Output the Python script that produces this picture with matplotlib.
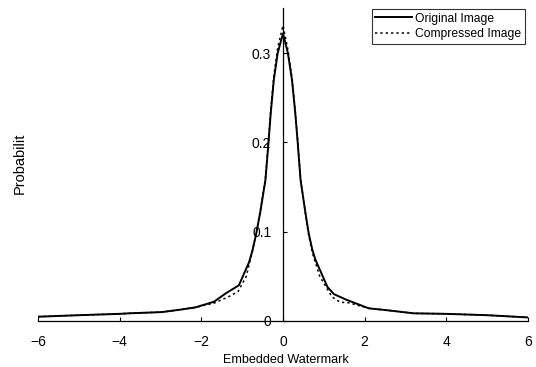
import matplotlib
matplotlib.use("Agg")
import matplotlib.pyplot as plt

plt.rcParams['font.family'] = ['Liberation Sans', 'DejaVu Sans']

x_orig = [-6, -5, -4, -3.77, -2.96, -2.47, -2.14, -1.69, -1.4, -1.08, -0.83, -0.745, -0.655,
          -0.56, -0.43, -0.355, -0.30, -0.225, -0.13, 0,
          0.12, 0.22, 0.30, 0.36, 0.43, 0.55, 0.63, 0.72, 0.8, 1.09, 1.25, 1.57, 2.1, 2.5,
          3.2, 4, 5, 6]
y_orig = [0.0048, 0.0065, 0.0080, 0.0086, 0.0100, 0.0130, 0.0153, 0.0216, 0.0310, 0.0400,
          0.066, 0.0795, 0.098, 0.121, 0.158, 0.200, 0.233, 0.270, 0.300, 0.322,
          0.300, 0.270, 0.233, 0.200, 0.158, 0.121, 0.098, 0.0795, 0.068, 0.038, 0.030,
          0.0235, 0.0142, 0.0123, 0.0086, 0.0080, 0.0065, 0.0040]

x_comp = [-6, -5, -4, -3.77, -2.96, -2.47, -2.14, -1.69, -1.34, -1.1, -0.9, -0.76, -0.66,
          -0.56, -0.43, -0.355, -0.30, -0.225, -0.13, 0,
          0.12, 0.22, 0.30, 0.36, 0.43, 0.55, 0.63, 0.72, 0.9, 1.2, 1.4, 1.6, 2.1, 2.5,
          3.2, 4, 5, 6]
y_comp = [0.0048, 0.0065, 0.0080, 0.0086, 0.0100, 0.0130, 0.0153, 0.0200, 0.0270, 0.0330,
          0.050, 0.0760, 0.098, 0.122, 0.160, 0.202, 0.236, 0.274, 0.306, 0.331,
          0.304, 0.272, 0.235, 0.201, 0.159, 0.120, 0.096, 0.076, 0.050, 0.027, 0.021,
          0.0205, 0.0142, 0.0123, 0.0086, 0.0080, 0.0065, 0.0040]

xticks = [-6, -4, -2, 0, 2, 4, 6]
xtick_labels = ['\u22126', '\u22124', '\u22122', '0', '2', '4', '6']
yticks = [0, 0.1, 0.2, 0.3]
ytick_labels = ['0', '0.1', '0.2', '0.3']

fig = plt.figure(figsize=(5.36, 3.67), dpi=100)
ax = fig.add_axes([38/536, 1 - 321/367, (528 - 38)/536, (321 - 8)/367])

ax.plot(x_orig, y_orig, color='black', lw=1.4, label='Original Image')
ax.plot(x_comp, y_comp, color='black', lw=1.1, linestyle=(0, (1.5, 2)), label='Compressed Image')

ax.set_xlim(-6, 6)
ax.set_ylim(0, 0.3505)
ax.spines['top'].set_visible(False)
ax.spines['right'].set_visible(False)
ax.spines['left'].set_position(('data', 0))
ax.spines['left'].set_linewidth(0.9)
ax.spines['bottom'].set_linewidth(0.9)

ax.set_xticks(xticks)
ax.set_xticklabels(xtick_labels)
ax.set_yticks(yticks)
ax.set_yticklabels(ytick_labels)
ax.tick_params(axis='x', direction='in', length=3, labelsize=10, pad=10)
ax.tick_params(axis='y', direction='in', length=3, labelsize=10, pad=8.5)

fig.text(286/536, 1 - 360/367, 'Embedded Watermark', ha='center', va='center', fontsize=9.1)
fig.text(20/536, 1 - 163/367, 'Probabilit', ha='center', va='center', rotation=90, fontsize=10.5)

leg = ax.legend(loc='upper right', bbox_to_anchor=(525/536, 1 - 9/367),
                bbox_transform=fig.transFigure, fontsize=8.7, frameon=True, fancybox=False,
                edgecolor='black', borderpad=0.3, handlelength=3.0, handletextpad=0.3,
                labelspacing=0.3, borderaxespad=0)
leg.get_frame().set_linewidth(0.8)

fig.savefig('out.png', dpi=100)
